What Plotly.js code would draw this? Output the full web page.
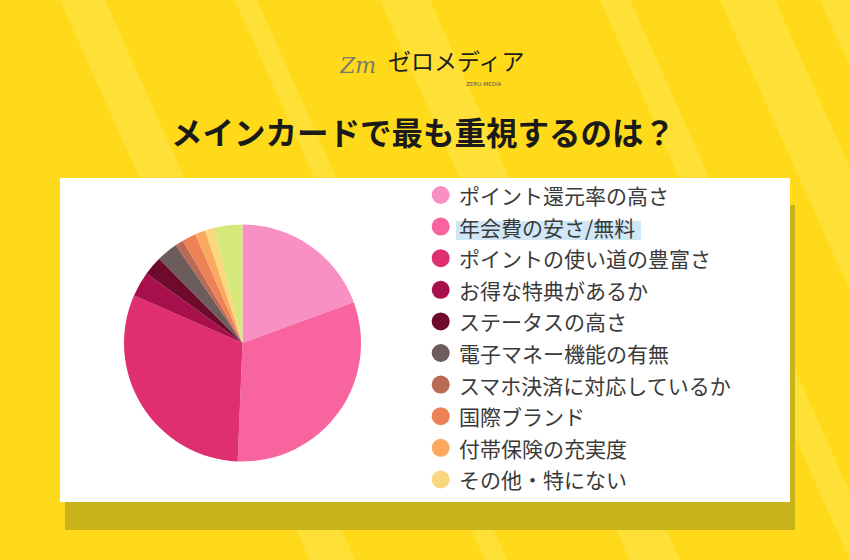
<!DOCTYPE html>
<html>
<head>
<meta charset="utf-8">
<script src="https://cdn.plot.ly/plotly-3.0.1.min.js"></script>
<style>
  html, body { margin: 0; padding: 0; background: #FFDA1A; }
  #chart { width: 850px; height: 560px; }
</style>
</head>
<body>
<div id="chart"></div>
<script>
// ---- data ----
const categories = [
  "ポイント還元率の高さ",
  "年会費の安さ/無料",
  "ポイントの使い道の豊富さ",
  "お得な特典があるか",
  "ステータスの高さ",
  "電子マネー機能の有無",
  "スマホ決済に対応しているか",
  "国際ブランド",
  "付帯保険の充実度",
  "その他・特にない",
  "（凡例外）"
];
const values = [19.4, 31.2, 30.9, 3.4, 2.6, 2.9, 1.1, 1.9, 1.4, 1.3, 3.8];
const sliceColors = [
  "#F990C4", "#F8649D", "#E02F70", "#A8104B", "#6E0A2B",
  "#6C5C5C", "#B86B52", "#EC8256", "#FBA95E", "#FAD67F", "#D5E87A"
];
const legendItems = categories.slice(0, 10);
const titleText = "メインカードで最も重視するのは？";
const logoText = "ゼロメディア";

// ---- helpers: pixel -> paper ----
const W = 850, H = 560;
const px = x => x / W;
const py = y => 1 - y / H;

// pie geometry (pixels)
const cx = 242.5, cy = 343, r = 118.5;

const shapes = [];
// background light diagonal stripes
const stripes = [[60, 45], [235, 22], [380, 50], [600, 30], [720, 55], [820, 45]];
const shift = 250;
stripes.forEach(([x0, w]) => {
  shapes.push({
    type: "path", xref: "paper", yref: "paper", layer: "below",
    path: `M ${px(x0)} 1 L ${px(x0 + w)} 1 L ${px(x0 + w + shift)} 0 L ${px(x0 + shift)} 0 Z`,
    fillcolor: "rgba(255,240,130,0.28)", line: { width: 0 }
  });
});
// shadow box
shapes.push({
  type: "rect", xref: "paper", yref: "paper", layer: "below",
  x0: px(65), x1: px(795), y0: py(530), y1: py(205),
  fillcolor: "#C9B31B", line: { width: 0 }
});
// white box
shapes.push({
  type: "rect", xref: "paper", yref: "paper", layer: "below",
  x0: px(60), x1: px(790), y0: py(502), y1: py(178),
  fillcolor: "#FFFFFF", line: { width: 0 }
});
// text selection highlight on the second legend entry
shapes.push({
  type: "rect", xref: "paper", yref: "paper", layer: "below",
  x0: px(456), x1: px(641), y0: py(240), y1: py(221),
  fillcolor: "#CFE7F6", line: { width: 0 }
});

const annotations = [];
const legX = 440.7, legTextX = 457, legY0 = 195, legStep = 31.6, mr = 9;
legendItems.forEach((name, i) => {
  const y = legY0 + i * legStep;
  shapes.push({
    type: "circle", xref: "paper", yref: "paper",
    x0: px(legX - mr), x1: px(legX + mr), y0: py(y + mr), y1: py(y - mr),
    fillcolor: sliceColors[i], line: { width: 0 }
  });
  annotations.push({
    xref: "paper", yref: "paper", x: px(legTextX), y: py(y),
    xanchor: "left", yanchor: "middle", showarrow: false,
    text: name,
    font: { family: "Noto Sans CJK JP", size: 21, color: "#3A3A3A" }
  });
});

// title
annotations.push({
  xref: "paper", yref: "paper", x: px(423), y: py(131),
  xanchor: "center", yanchor: "middle", showarrow: false,
  text: "<b>" + titleText + "</b>",
  font: { family: "Noto Sans CJK JP", size: 31.5, color: "#1A1A1A" }
});
// logo
annotations.push({
  xref: "paper", yref: "paper", x: px(357), y: py(65),
  xanchor: "center", yanchor: "middle", showarrow: false,
  text: "<i>Zm</i>",
  font: { family: "DejaVu Serif", size: 22, color: "#7A7A6A" }
});
annotations.push({
  xref: "paper", yref: "paper", x: px(456), y: py(60),
  xanchor: "center", yanchor: "middle", showarrow: false,
  text: logoText,
  font: { family: "Noto Sans CJK JP", size: 23, color: "#1E1E1E" }
});
annotations.push({
  xref: "paper", yref: "paper", x: px(484), y: py(84),
  xanchor: "center", yanchor: "middle", showarrow: false,
  text: "ZERO-MEDIA",
  font: { family: "DejaVu Sans", size: 5.5, color: "#555555" }
});

const trace = {
  type: "pie",
  labels: categories,
  values: values,
  marker: { colors: sliceColors, line: { width: 0 } },
  sort: false,
  direction: "clockwise",
  rotation: 0,
  textinfo: "none",
  hoverinfo: "label+percent",
  showlegend: false,
  domain: { x: [px(cx - r), px(cx + r)], y: [py(cy + r), py(cy - r)] }
};

const layout = {
  width: W, height: H,
  margin: { l: 0, r: 0, t: 0, b: 0 },
  paper_bgcolor: "#FFDA1A",
  plot_bgcolor: "rgba(0,0,0,0)",
  showlegend: false,
  shapes: shapes,
  annotations: annotations
};

Plotly.newPlot("chart", [trace], layout, { displayModeBar: false, staticPlot: true });
</script>
</body>
</html>
